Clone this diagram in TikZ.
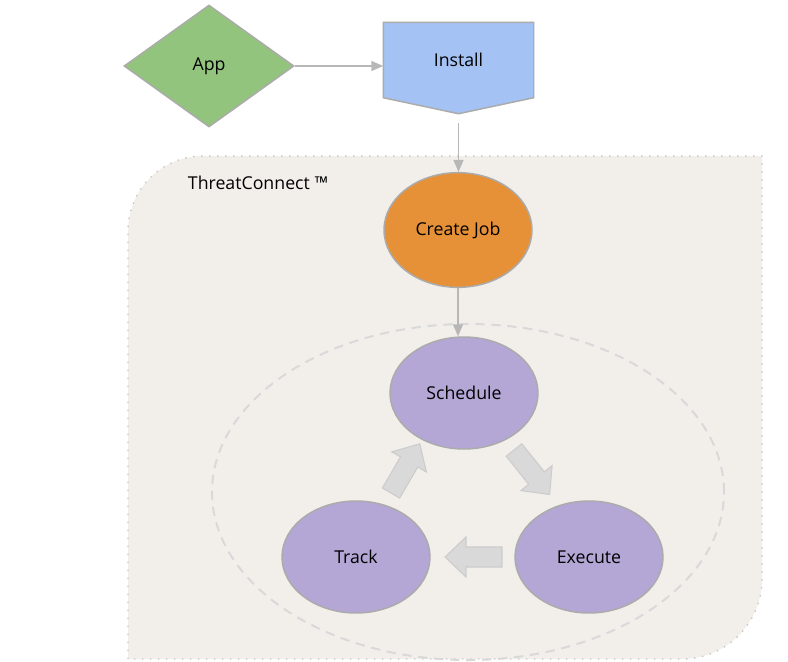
\documentclass[tikz,border=0pt]{standalone}
\usepackage{fontspec}
\setmainfont{Open Sans}
\usetikzlibrary{shapes.geometric,arrows.meta,calc}

\definecolor{appgreen}{HTML}{93C47D}
\definecolor{installblue}{HTML}{A4C2F4}
\definecolor{joborange}{HTML}{E69138}
\definecolor{steppurple}{HTML}{B4A7D6}
\definecolor{panelfill}{HTML}{F2EFEB}
\definecolor{edgegray}{HTML}{ABABAB}
\definecolor{linegray}{HTML}{B7B7B7}
\definecolor{fatgray}{HTML}{D9D9D9}

\tikzset{every picture/.style={line width=0.75pt}}
\tikzset{
  labelfont/.style={font=\fontsize{13.3}{15}\selectfont},
  shapebox/.style={draw=edgegray, line width=1.1pt, inner sep=0pt, labelfont},
  stepnode/.style={shapebox, ellipse, fill=steppurple, minimum width=111pt, minimum height=84pt},
  flow/.style={draw=linegray, line width=1.1pt, -{Triangle[length=9pt,width=7.5pt]}},
  fatarrow/.pic={\draw[draw=fatgray!85!gray, fill=fatgray, line width=0.8pt] (0,-10) -- (36,-10) -- (36,-20) -- (57,0) -- (36,20) -- (36,10) -- (0,10) -- cycle;}
}

\begin{document}
\begin{tikzpicture}[x=0.75pt,y=0.75pt,yscale=-1,xscale=1]
\useasboundingbox (0,0) rectangle (788,661);

%Panel: ThreatConnect
\draw [fill=panelfill, draw=linegray!80, line width=1pt, dash pattern=on 1pt off 5pt] (128,659) -- (128,231) arc[start angle=180, end angle=270, radius=75] -- (762,156) -- (762,579) arc[start angle=0, end angle=90, radius=80] -- cycle ;
\node [anchor=west, labelfont] (tclabel) at (183,183) {ThreatConnect ™};

%Dashed loop
\node [draw=fatgray, line width=1.5pt, dash pattern=on 7pt off 5pt, ellipse, minimum width=384pt, minimum height=252pt, inner sep=0pt] (ring) at (468,492) {};

%Top row
\node [shapebox, diamond, fill=appgreen, minimum width=127.5pt, minimum height=91.5pt, aspect=1.39] (app) at (209,66) {App};
\node [shapebox, draw=none, rectangle, minimum width=111.75pt, minimum height=55.5pt] (inst) at (458.5,60) {};
\coordinate (insttip) at ($(inst.south)+(0,16)$);
\draw [draw=edgegray, fill=installblue, line width=1.1pt] (inst.north west) -- (inst.north east) -- (inst.south east) -- (insttip) -- (inst.south west) -- cycle ;
\node [labelfont] (instlabel) at (inst) {Install};

%Job and steps
\node [shapebox, ellipse, fill=joborange, minimum width=111pt, minimum height=86pt] (job) at (458,230) {Create Job};
\node [stepnode] (sched) at (464,393) {Schedule};
\node [stepnode] (track) at (356,557) {Track};
\node [stepnode] (exec) at (589,557) {Execute};

%Connectors
\draw [flow] (app.east) -- (app.east -| inst.west);
\draw [flow, shorten <=7pt] (insttip) -- (insttip |- job.north);
\draw [flow] (job.south) -- (job.south |- sched.north);

%Cycle arrows
\pic [rotate=-51.3] at (514,450) {fatarrow};
\pic [rotate=180] at (502,557) {fatarrow};
\pic [rotate=59.7] at (391,493) {fatarrow};

\end{tikzpicture}
\end{document}
